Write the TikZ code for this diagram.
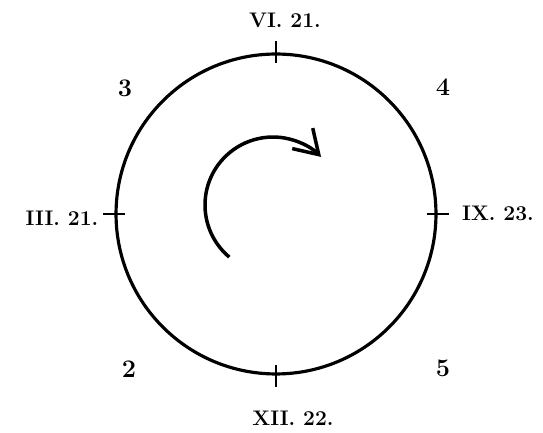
\documentclass[tikz,border=0pt]{standalone}
\usetikzlibrary{arrows.meta, positioning, calc}
\begin{document}
\begin{tikzpicture}[
  x=0.02cm, y=0.02cm,
  font=\large\bfseries,
  rim/.style={line width=1.8pt},
  notch/.style={line width=1.4pt},
  quarter/.style={font=\Large\bfseries},
  turn/.style={-{Straight Barb[length=4.6mm,width=5.8mm,line width=2pt]}, line width=2pt},
]
\useasboundingbox (0,0) rectangle (543,432);

% --- the dial ---
\node[draw, circle, rim, minimum size=6.4cm, inner sep=0pt] (dial) at (276,218) {};
\draw[notch] ($(dial.north)+(0,11)$) -- ($(dial.north)+(0,-11)$);
\draw[notch] ($(dial.south)+(0,11)$) -- ($(dial.south)+(0,-11)$);
\draw[notch] ($(dial.west)+(-11,0)$) -- ($(dial.west)+(11,0)$);
\draw[notch] ($(dial.east)+(-11,0)$) -- ($(dial.east)+(11,0)$);

% --- dates at the notches ---
\node (jun) at (285,412) {VI. 21.};
\node (dec) at (293,14)  {XII. 22.};
\node (mar) at (62,214)  {III. 21.};
\node (sep) at (498,219) {IX. 23.};

% --- quarter numbers ---
\node[quarter] (q3) at (125,344) {3};
\node[quarter] (q4) at (443,345) {4};
\node[quarter] (q2) at (129,63)  {2};
\node[quarter] (q5) at (443,64)  {5};

% --- sense of turning ---
\coordinate (swing) at ($(273,227)+(230:68)$);
\draw[turn] (swing) arc[start angle=230, end angle=45, radius=1.36cm];
\end{tikzpicture}
\end{document}
